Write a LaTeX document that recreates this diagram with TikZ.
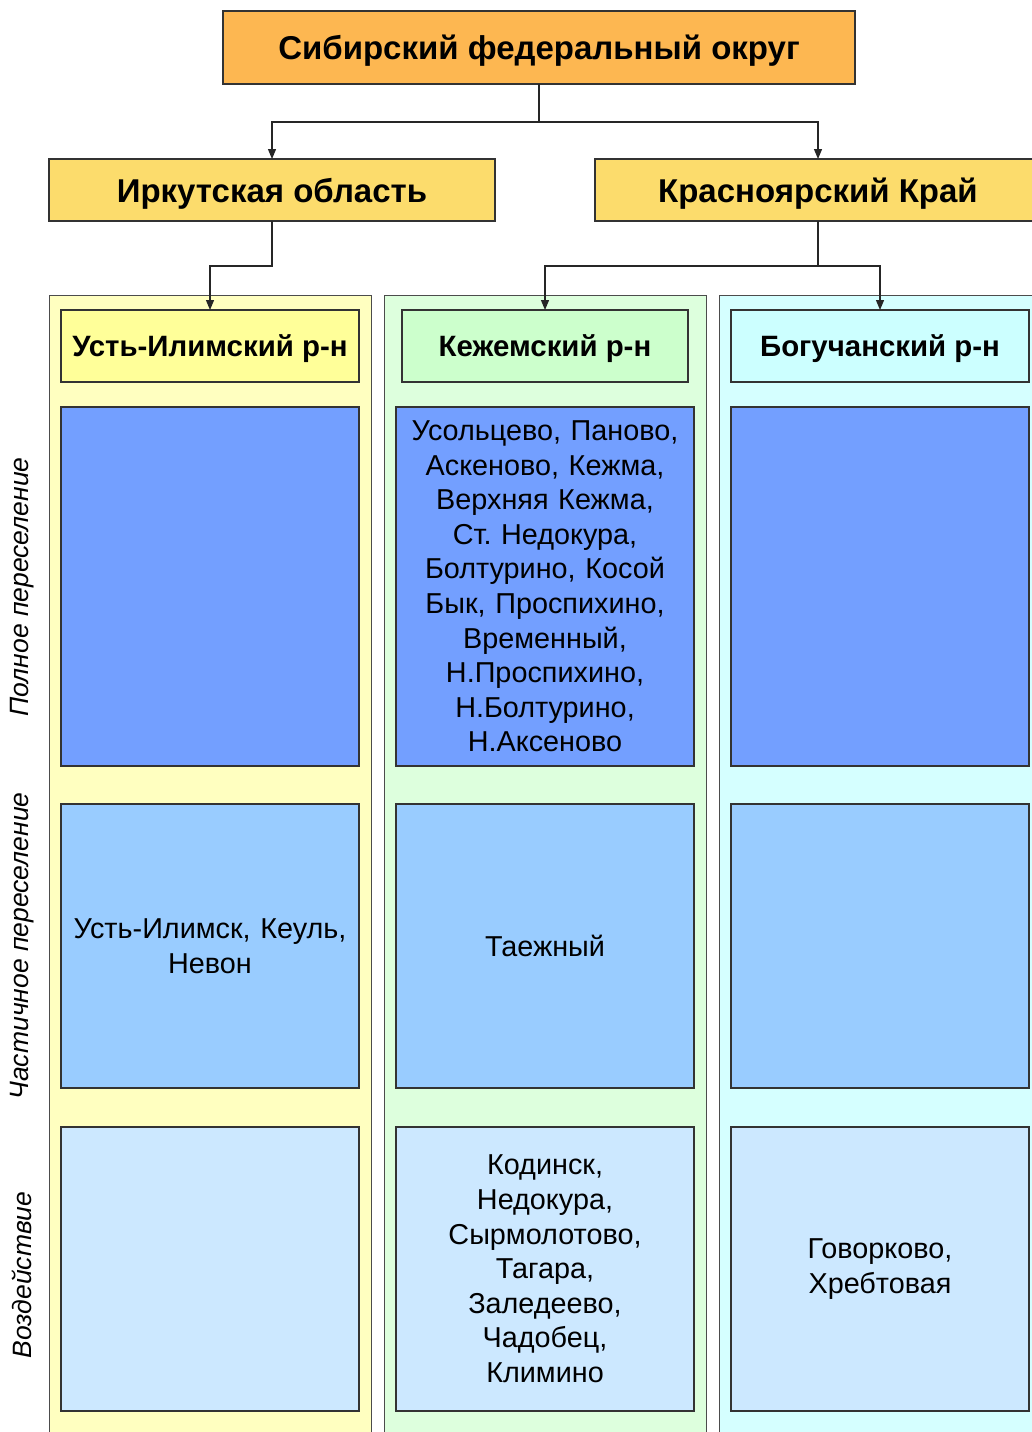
\documentclass[tikz,border=0pt]{standalone}
\usepackage{fontspec}
\setmainfont{Liberation Sans}
\usetikzlibrary{arrows.meta}
\frenchspacing
\definecolor{cTop}{HTML}{FDB751}
\definecolor{cReg}{HTML}{FCDC6C}
\definecolor{cColA}{HTML}{FFFFC0}
\definecolor{cColB}{HTML}{DDFFDD}
\definecolor{cColC}{HTML}{D5FFFF}
\definecolor{cHdA}{HTML}{FFFF99}
\definecolor{cHdB}{HTML}{CCFFCC}
\definecolor{cHdC}{HTML}{CCFFFF}
\definecolor{cRowA}{HTML}{739FFF}
\definecolor{cRowB}{HTML}{99CCFF}
\definecolor{cRowC}{HTML}{CCE8FF}
\begin{document}
\begin{tikzpicture}[x=1pt,y=-1pt,
  box/.style={draw=black!80, line width=1.3pt, anchor=north west, inner sep=0pt, outer sep=0pt, align=center},
  colbg/.style={draw=black!70, line width=1pt},
  ttl/.style={box, font=\fontsize{33}{38}\selectfont\bfseries, text depth=0pt},
  hdr/.style={box, font=\fontsize{29.4}{34}\selectfont\bfseries, text depth=0pt},
  cell/.style={box, font=\fontsize{28.8}{34.6}\selectfont\frenchspacing, text width=296pt},
  side/.style={rotate=90, font=\fontsize{26.5}{30}\selectfont\itshape},
  conn/.style={draw=black!85, line width=1.2pt, -{Triangle[length=10pt,width=8pt]}}]
\useasboundingbox (0,0) rectangle (1031,1432);
\fill[white] (0,0) rectangle (1031,1432);
% column backgrounds
\fill[cColA] (49,295) rectangle (371,1445);
\draw[colbg] (49,1445) -- (49,295) -- (371,295) -- (371,1445);
\fill[cColB] (384,295) rectangle (706,1445);
\draw[colbg] (384,1445) -- (384,295) -- (706,295) -- (706,1445);
\fill[cColC] (719,295) rectangle (1045,1445);
\draw[colbg] (719,1445) -- (719,295) -- (1045,295);
% top levels
\node[ttl, fill=cTop, minimum width=632pt, minimum height=73pt] (top) at (223,11) {Сибирский федеральный округ};
\node[ttl, fill=cReg, minimum width=446pt, minimum height=62pt] (irk) at (49,159) {Иркутская область};
\node[ttl, fill=cReg, minimum width=446pt, minimum height=62pt] (kras) at (595,159) {Красноярский Край};
% district headers
\node[hdr, fill=cHdA, minimum width=298pt, minimum height=72pt] (ust) at (61,310) {Усть-Илимский р-н};
\node[hdr, fill=cHdB, minimum width=286pt, minimum height=72pt] (kez) at (402,310) {Кежемский р-н};
\node[hdr, fill=cHdC, minimum width=298pt, minimum height=72pt] (bog) at (731,310) {Богучанский р-н};
% rows
\node[cell, fill=cRowA, minimum width=298pt, minimum height=359pt] (a1) at (61,407) {};
\node[cell, fill=cRowA, minimum width=298pt, minimum height=359pt] (b1) at (396,407) {Усольцево, Паново,\\Аскеново, Кежма,\\Верхняя Кежма,\\Ст. Недокура,\\Болтурино, Косой\\Бык, Проспихино,\\Временный,\\Н.Проспихино,\\Н.Болтурино,\\Н.Аксеново};
\node[cell, fill=cRowA, minimum width=298pt, minimum height=359pt] (c1) at (731,407) {};
\node[cell, fill=cRowB, minimum width=298pt, minimum height=284pt] (a2) at (61,804) {Усть-Илимск, Кеуль,\\Невон};
\node[cell, fill=cRowB, minimum width=298pt, minimum height=284pt] (b2) at (396,804) {Таежный};
\node[cell, fill=cRowB, minimum width=298pt, minimum height=284pt] (c2) at (731,804) {};
\node[cell, fill=cRowC, minimum width=298pt, minimum height=284pt] (a3) at (61,1127) {};
\node[cell, fill=cRowC, minimum width=298pt, minimum height=284pt] (b3) at (396,1127) {Кодинск,\\Недокура,\\Сырмолотово,\\Тагара,\\Заледеево,\\Чадобец,\\Климино};
\node[cell, fill=cRowC, minimum width=298pt, minimum height=284pt] (c3) at (731,1127) {Говорково,\\Хребтовая};
% side labels
\node[side] (s1) at (22,587) {Полное переселение};
\node[side] (s2) at (22,946) {Частичное переселение};
\node[side] (s3) at (22,1275) {Воздействие};
% connectors
\coordinate (j1) at (539,122);
\coordinate (j2) at (272,266);
\coordinate (j3) at (818,266);
\draw[conn] (top.south) -- (j1) -| (irk.north);
\draw[conn] (j1) -| (kras.north);
\draw[conn] (irk.south) -- (j2) -| (ust.north);
\draw[conn] (kras.south) -- (j3) -| (kez.north);
\draw[conn] (j3) -| (bog.north);
\end{tikzpicture}
\end{document}
